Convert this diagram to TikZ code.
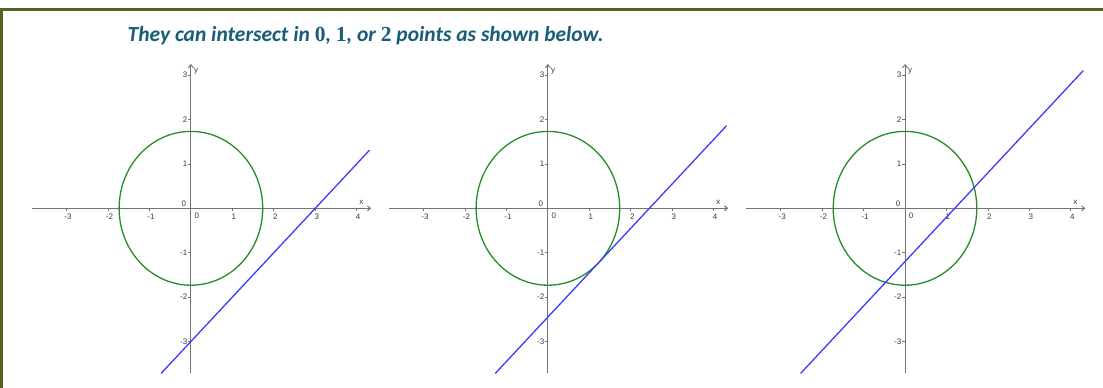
\documentclass[tikz,border=0pt]{standalone}
\usepackage{fontspec}
\setmainfont{Carlito}
\newfontfamily\digitfont{Liberation Serif}
\newfontfamily\axisfont{Liberation Sans}
\usetikzlibrary{arrows.meta}
\definecolor{olive}{RGB}{79,98,40}
\definecolor{titleblue}{RGB}{24,94,120}
\definecolor{axisgray}{RGB}{115,115,115}
\definecolor{labelgray}{RGB}{60,60,60}
\definecolor{circgreen}{RGB}{40,140,40}
\definecolor{lineblue}{RGB}{60,60,250}
\tikzset{
  frameline/.style={draw=olive, line width=3pt},
  axisline/.style={draw=axisgray, line width=1pt, -{Straight Barb[length=3pt,width=5pt]}},
  tickline/.style={draw=axisgray, line width=0.8pt},
  ticklab/.style={font=\axisfont\fontsize{8}{9}\selectfont, text=labelgray, inner sep=0pt},
  circ/.style={draw=circgreen, line width=1.3pt},
  sline/.style={draw=lineblue, line width=1.3pt},
  titletext/.style={font=\fontsize{21.5}{25}\selectfont\bfseries\itshape, text=titleblue, inner sep=0pt, anchor=base west}
}
\newcommand\plotpanel[5]{%
  % #1 origin x (pt), #2 intercept, #3 lower x, #4 upper x, #5 prefix
  \begin{scope}[shift={(#1pt,-208.3pt)}, x=41.45pt, y=44.4pt]
    \coordinate (#5-xl) at (-3.83,0);
    \coordinate (#5-xr) at (4.35,0);
    \coordinate (#5-yb) at (0,-3.72);
    \coordinate (#5-yt) at (0,3.25);
    \draw[axisline] (#5-xl) -- (#5-xr);
    \draw[axisline] (#5-yb) -- (#5-yt);
    \foreach \k in {-3,-2,-1,1,2,3,4} {
      \draw[tickline] (\k,0) -- ++(0,-2.5pt);
      \node[ticklab] (#5-xt\k) at ([xshift=1.5pt,yshift=-8.5pt]\k,0) {\k};
    }
    \foreach \k in {-3,-2,-1,1,2,3} {
      \draw[tickline] (0,\k) -- ++(-3pt,0);
      \node[ticklab, anchor=east] (#5-yt\k) at ([xshift=-3.5pt]0,\k) {\k};
    }
    \node[ticklab] (#5-o1) at (6pt,-7.7pt) {0};
    \node[ticklab] (#5-o2) at (-7pt,4.2pt) {0};
    \node[ticklab, anchor=west] (#5-ylab) at (3pt,3.08) {y};
    \node[ticklab] (#5-xlab) at (4.11,5.8pt) {x};
    \draw[circ] (0,0) ellipse [x radius=1.732, y radius=1.732];
    \coordinate (#5-la) at (#3,#3-#2);
    \coordinate (#5-lb) at (#4,#4-#2);
    \draw[sline] (#5-la) -- (#5-lb);
  \end{scope}
}
\begin{document}
\begin{tikzpicture}
  \useasboundingbox (0,0) rectangle (1103pt,-388pt);
  \fill[white] (0,0) rectangle (1103pt,-388pt);
  \coordinate (tl) at (1.2pt,-9.5pt);
  \coordinate (tr) at (1103pt,-9.5pt);
  \coordinate (bl) at (1.2pt,-388pt);
  \draw[frameline] (bl) -- (tl) -- (tr);
  \node[titletext] (title) at (127.5pt,-41.7pt) {They can intersect in {\digitfont\upshape 0}, {\digitfont\upshape 1}, or {\digitfont\upshape 2} points as shown below.};
  \plotpanel{190.9}{3}{-0.72}{4.31}{a}
  \plotpanel{547.9}{2.449}{-1.27}{4.31}{b}
  \plotpanel{905.0}{1.2}{-2.52}{4.3}{c}
\end{tikzpicture}
\end{document}
